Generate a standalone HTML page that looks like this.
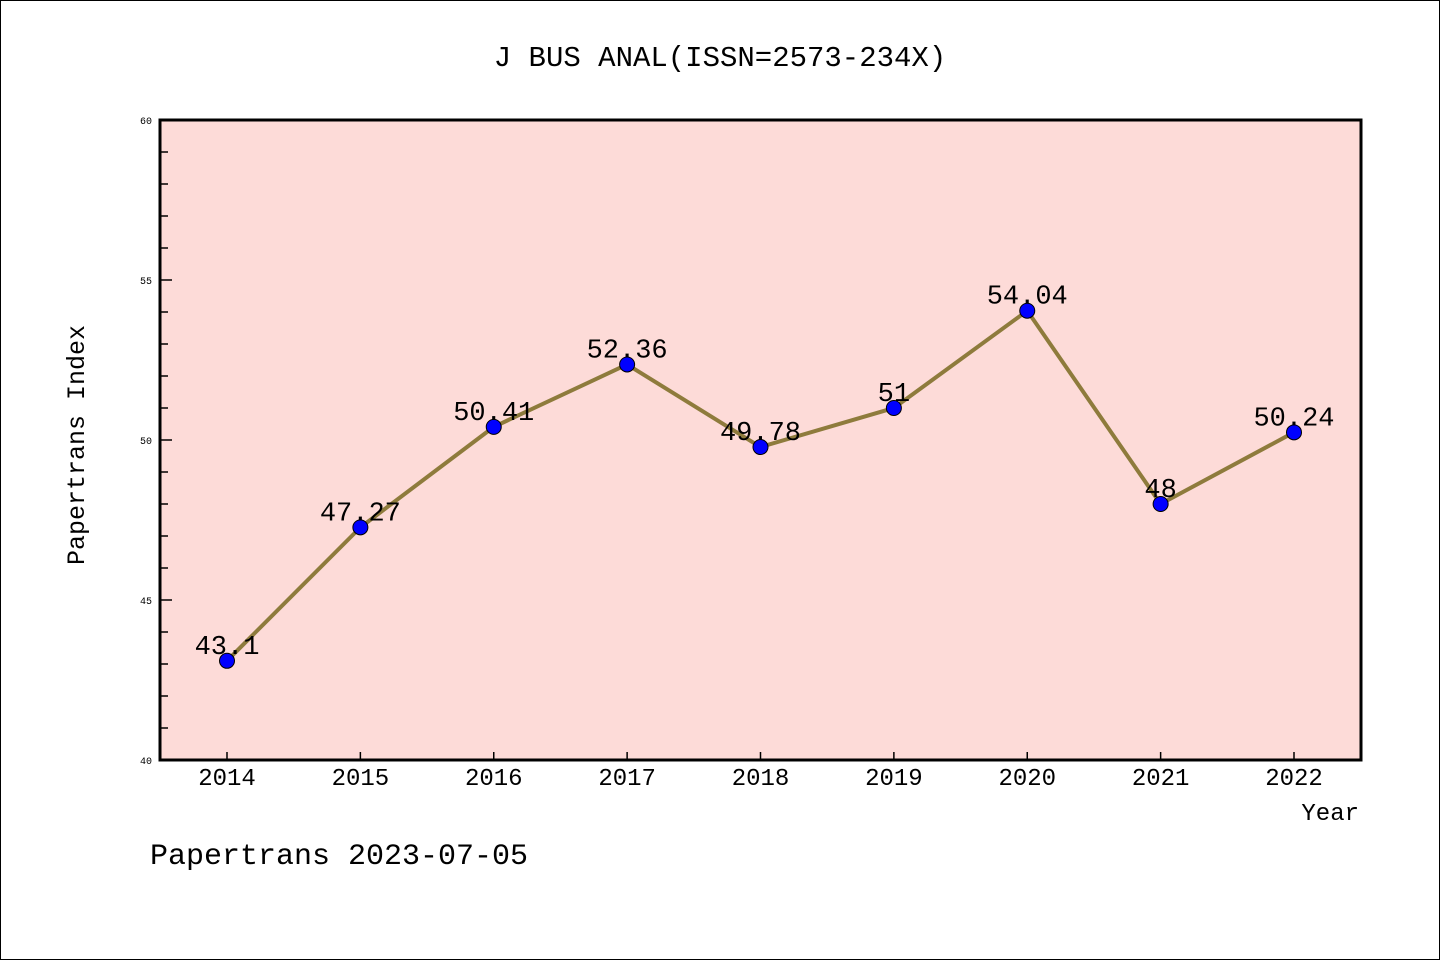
<!DOCTYPE html>
<html><head><meta charset="utf-8"><style>
html,body{margin:0;padding:0;background:#fff}
svg{display:block}
text{font-family:"Liberation Mono","DejaVu Sans Mono",monospace}
</style></head><body>
<svg id="chart" width="1440" height="960" xmlns="http://www.w3.org/2000/svg">
<rect x="0.5" y="0.5" width="1439" height="959" fill="#fff" stroke="#000" stroke-width="1"/>
<text x="720" y="66" font-size="29" text-anchor="middle">J BUS ANAL(ISSN=2573-234X)</text>
<rect x="160" y="120" width="1201" height="640" fill="#fddbd8"/>
<g id="axes"></g>
<g id="series"></g>
<rect x="160" y="120" width="1201" height="640" fill="none" stroke="#000" stroke-width="3"/>
<text transform="translate(84,445) rotate(-90)" font-size="25" text-anchor="middle">Papertrans Index</text>
<text x="1359" y="820" font-size="24" text-anchor="end">Year</text>
<text x="150" y="864" font-size="30">Papertrans 2023-07-05</text>
</svg>
<script>
const years=["2014","2015","2016","2017","2018","2019","2020","2021","2022"];
const values=[43.1,47.27,50.41,52.36,49.78,51,54.04,48,50.24];
const valueLabels=["43.1","47.27","50.41","52.36","49.78","51","54.04","48","50.24"];
const yTicks=[40,45,50,55,60];
const NS="http://www.w3.org/2000/svg";
const yMin=40,yMax=60,plotTop=120,plotBot=760;
const xFirst=227,xLast=1294;
function ys(v){return plotBot-(v-yMin)/(yMax-yMin)*(plotBot-plotTop);}
function xs(i){return xFirst+i*(xLast-xFirst)/(years.length-1);}
function mk(t,a,p){const e=document.createElementNS(NS,t);for(const k in a)e.setAttribute(k,a[k]);p.appendChild(e);return e;}
const ax=document.getElementById('axes');
for(let v=yMin;v<=yMax;v++){
  const major=yTicks.includes(v);
  const t=mk('line',{x1:160,x2:160+(major?12:8),y1:ys(v),y2:ys(v),stroke:'#000','stroke-width':1.5},ax);
  
  
}
yTicks.forEach(v=>{
  const t=mk('text',{x:152,y:ys(v)+4,'font-size':10,'text-anchor':'end','font-family':'Liberation Sans, sans-serif'},ax);
  t.textContent=v;
  
  
});
years.forEach((y,i)=>{
  const t=mk('line',{x1:xs(i),x2:xs(i),y1:plotBot,y2:plotBot-8,stroke:'#000','stroke-width':1.5},ax);
  
  
  const l=mk('text',{x:xs(i),y:785,'font-size':24,'text-anchor':'middle'},ax);
  l.textContent=y;
  
  
});
const s=document.getElementById('series');
const line=mk('polyline',{points:values.map((v,i)=>xs(i)+','+ys(v)).join(' '),fill:'none',stroke:'#8e7b3c','stroke-width':4,'stroke-linejoin':'round'},s);


values.forEach((v,i)=>{
  const c=mk('circle',{cx:xs(i),cy:ys(v),r:7.5,fill:'#0000ff',stroke:'#000','stroke-width':1},s);
  
  
  const t=mk('text',{x:xs(i),y:ys(v)-7,'font-size':27,'text-anchor':'middle'},s);
  t.textContent=valueLabels[i];
  
  
});
</script>
</body></html>
